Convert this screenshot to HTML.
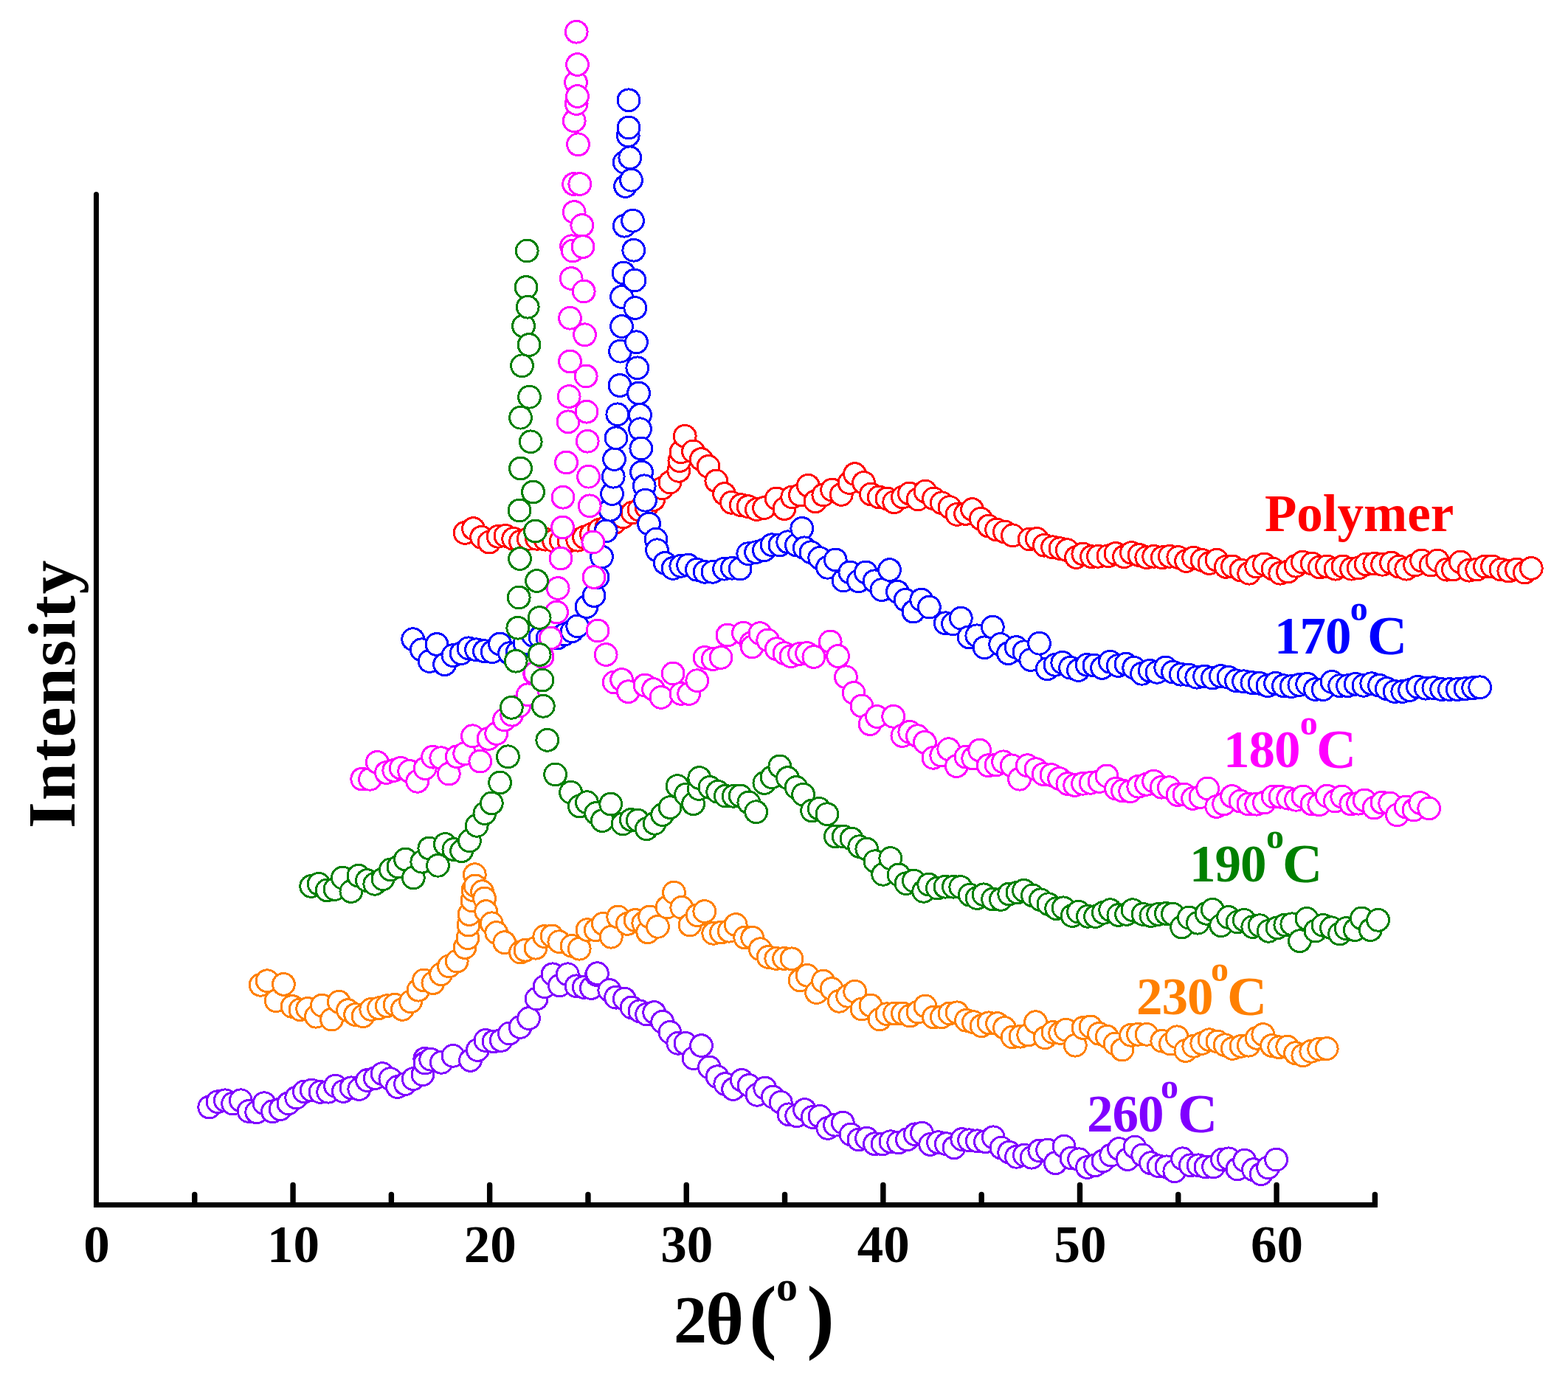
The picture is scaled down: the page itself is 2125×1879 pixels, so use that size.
<!DOCTYPE html><html><head><meta charset="utf-8"><title>XRD patterns</title><style>html,body{margin:0;padding:0;background:#fff;overflow:hidden}svg{display:block}</style></head><body><svg width="2125" height="1879" viewBox="0 0 2125 1879"><rect width="100%" height="100%" fill="#fff"/><g stroke="#ff0000" fill="#fff" stroke-width="3" shape-rendering="crispEdges"><circle cx="630.1" cy="722.4" r="14.9"/><circle cx="641.5" cy="716.6" r="14.9"/><circle cx="652.6" cy="728.3" r="14.9"/><circle cx="663" cy="735.1" r="14.9"/><circle cx="675.1" cy="727.3" r="14.9"/><circle cx="684.9" cy="726.3" r="14.9"/><circle cx="695.7" cy="730.3" r="14.9"/><circle cx="705.5" cy="734.2" r="14.9"/><circle cx="716.2" cy="730.3" r="14.9"/><circle cx="727.6" cy="730.3" r="14.9"/><circle cx="738.9" cy="731.2" r="14.9"/><circle cx="750.5" cy="733.2" r="14.9"/><circle cx="760.3" cy="733.2" r="14.9"/><circle cx="771" cy="733.2" r="14.9"/><circle cx="782.8" cy="732.2" r="14.9"/><circle cx="791.6" cy="728.3" r="14.9"/><circle cx="801.4" cy="724.4" r="14.9"/><circle cx="812.1" cy="718.5" r="14.9"/><circle cx="821.9" cy="714.6" r="14.9"/><circle cx="832.9" cy="708.7" r="14.9"/><circle cx="844.6" cy="700.9" r="14.9"/><circle cx="857.1" cy="695" r="14.9"/><circle cx="866.1" cy="691.1" r="14.9"/><circle cx="875.9" cy="687.2" r="14.9"/><circle cx="885.7" cy="677.4" r="14.9"/><circle cx="897.5" cy="661.8" r="14.9"/><circle cx="908" cy="653.9" r="14.9"/><circle cx="919.8" cy="638.3" r="14.9"/><circle cx="920.9" cy="624.6" r="14.9"/><circle cx="922.9" cy="612.8" r="14.9"/><circle cx="928.2" cy="591.3" r="14.9"/><circle cx="939.5" cy="611.9" r="14.9"/><circle cx="950.3" cy="622.6" r="14.9"/><circle cx="960.1" cy="632.4" r="14.9"/><circle cx="970.8" cy="652" r="14.9"/><circle cx="981.6" cy="669.6" r="14.9"/><circle cx="991.4" cy="681.3" r="14.9"/><circle cx="1004.3" cy="684.7" r="14.9"/><circle cx="1014.1" cy="686.7" r="14.9"/><circle cx="1025.4" cy="690.6" r="14.9"/><circle cx="1035.6" cy="688.6" r="14.9"/><circle cx="1052.2" cy="675.9" r="14.9"/><circle cx="1063" cy="689.6" r="14.9"/><circle cx="1073.7" cy="673.9" r="14.9"/><circle cx="1084.5" cy="671" r="14.9"/><circle cx="1095.3" cy="658.3" r="14.9"/><circle cx="1105" cy="679.8" r="14.9"/><circle cx="1115.8" cy="671" r="14.9"/><circle cx="1127.6" cy="664.1" r="14.9"/><circle cx="1140.3" cy="670.4" r="14.9"/><circle cx="1151" cy="654.4" r="14.9"/><circle cx="1158.5" cy="642.6" r="14.9"/><circle cx="1170.6" cy="654.4" r="14.9"/><circle cx="1180.4" cy="670" r="14.9"/><circle cx="1191.2" cy="673.9" r="14.9"/><circle cx="1201.9" cy="675.9" r="14.9"/><circle cx="1211.7" cy="680.8" r="14.9"/><circle cx="1223.4" cy="673.9" r="14.9"/><circle cx="1232.4" cy="669" r="14.9"/><circle cx="1244" cy="676.9" r="14.9"/><circle cx="1254" cy="666.1" r="14.9"/><circle cx="1265.5" cy="675.9" r="14.9"/><circle cx="1276.3" cy="681.8" r="14.9"/><circle cx="1287" cy="687.6" r="14.9"/><circle cx="1297" cy="697.4" r="14.9"/><circle cx="1308.6" cy="696.4" r="14.9"/><circle cx="1317.6" cy="690.6" r="14.9"/><circle cx="1329.3" cy="703.3" r="14.9"/><circle cx="1339.9" cy="713.1" r="14.9"/><circle cx="1350.6" cy="718" r="14.9"/><circle cx="1361.4" cy="720.9" r="14.9"/><circle cx="1372.4" cy="725.8" r="14.9"/><circle cx="1395.2" cy="731" r="14.9"/><circle cx="1405.2" cy="730.4" r="14.9"/><circle cx="1415.4" cy="739.2" r="14.9"/><circle cx="1426.6" cy="741.8" r="14.9"/><circle cx="1436.9" cy="743.7" r="14.9"/><circle cx="1446.3" cy="745.7" r="14.9"/><circle cx="1458.5" cy="755.5" r="14.9"/><circle cx="1467.8" cy="751" r="14.9"/><circle cx="1479.4" cy="754.7" r="14.9"/><circle cx="1488.4" cy="754.3" r="14.9"/><circle cx="1501.9" cy="753.7" r="14.9"/><circle cx="1511.9" cy="750.4" r="14.9"/><circle cx="1523.4" cy="754.7" r="14.9"/><circle cx="1533.4" cy="749.4" r="14.9"/><circle cx="1544" cy="752.5" r="14.9"/><circle cx="1553.8" cy="755.7" r="14.9"/><circle cx="1563.7" cy="754.3" r="14.9"/><circle cx="1575.3" cy="755.7" r="14.9"/><circle cx="1585.3" cy="754.3" r="14.9"/><circle cx="1596.8" cy="755.5" r="14.9"/><circle cx="1607.6" cy="760.5" r="14.9"/><circle cx="1617.6" cy="756.2" r="14.9"/><circle cx="1629.1" cy="759.4" r="14.9"/><circle cx="1638.9" cy="763.5" r="14.9"/><circle cx="1648.9" cy="759.2" r="14.9"/><circle cx="1661.4" cy="768.4" r="14.9"/><circle cx="1670.4" cy="768" r="14.9"/><circle cx="1681.9" cy="773.1" r="14.9"/><circle cx="1692.7" cy="777.2" r="14.9"/><circle cx="1702.7" cy="768" r="14.9"/><circle cx="1713.4" cy="765" r="14.9"/><circle cx="1725" cy="771.1" r="14.9"/><circle cx="1734.8" cy="777.2" r="14.9"/><circle cx="1745.5" cy="775" r="14.9"/><circle cx="1756.3" cy="767.2" r="14.9"/><circle cx="1765.3" cy="762.1" r="14.9"/><circle cx="1778.2" cy="764.1" r="14.9"/><circle cx="1788.4" cy="769" r="14.9"/><circle cx="1798.4" cy="767.9" r="14.9"/><circle cx="1809.9" cy="771.2" r="14.9"/><circle cx="1819.9" cy="767.9" r="14.9"/><circle cx="1831.5" cy="771.2" r="14.9"/><circle cx="1841.2" cy="770" r="14.9"/><circle cx="1851.2" cy="764.9" r="14.9"/><circle cx="1862.8" cy="764.1" r="14.9"/><circle cx="1873.5" cy="765.3" r="14.9"/><circle cx="1885.5" cy="763" r="14.9"/><circle cx="1896" cy="768.1" r="14.9"/><circle cx="1905.8" cy="771.2" r="14.9"/><circle cx="1917.6" cy="766.1" r="14.9"/><circle cx="1926.6" cy="760" r="14.9"/><circle cx="1939.1" cy="766.1" r="14.9"/><circle cx="1948.1" cy="760" r="14.9"/><circle cx="1960.6" cy="772.2" r="14.9"/><circle cx="1969.4" cy="772" r="14.9"/><circle cx="1979.4" cy="762" r="14.9"/><circle cx="1990.9" cy="773.2" r="14.9"/><circle cx="2001.7" cy="772" r="14.9"/><circle cx="2012.5" cy="768.1" r="14.9"/><circle cx="2022.5" cy="767.9" r="14.9"/><circle cx="2034" cy="772" r="14.9"/><circle cx="2044.8" cy="774.1" r="14.9"/><circle cx="2055.5" cy="772" r="14.9"/><circle cx="2066.3" cy="776.1" r="14.9"/><circle cx="2075.3" cy="770.4" r="14.9"/></g><g stroke="#0000ff" fill="#fff" stroke-width="3" shape-rendering="crispEdges"><circle cx="559.7" cy="866.7" r="14.9"/><circle cx="571.3" cy="880.8" r="14.9"/><circle cx="582.2" cy="896.4" r="14.9"/><circle cx="592" cy="873.5" r="14.9"/><circle cx="602.6" cy="900.7" r="14.9"/><circle cx="613.9" cy="888.6" r="14.9"/><circle cx="625.1" cy="885.7" r="14.9"/><circle cx="634.9" cy="878.8" r="14.9"/><circle cx="645.6" cy="880.8" r="14.9"/><circle cx="656.4" cy="882.7" r="14.9"/><circle cx="667.2" cy="883.7" r="14.9"/><circle cx="677.5" cy="873" r="14.9"/><circle cx="690.6" cy="885.7" r="14.9"/><circle cx="701" cy="884.7" r="14.9"/><circle cx="711" cy="872" r="14.9"/><circle cx="722.6" cy="861.4" r="14.9"/><circle cx="732.1" cy="863.9" r="14.9"/><circle cx="742.1" cy="865.1" r="14.9"/><circle cx="755.2" cy="865.1" r="14.9"/><circle cx="765" cy="860" r="14.9"/><circle cx="775.2" cy="855.8" r="14.9"/><circle cx="782.7" cy="848.9" r="14.9"/><circle cx="795" cy="822.5" r="14.9"/><circle cx="805" cy="807.5" r="14.9"/><circle cx="810" cy="782.5" r="14.9"/><circle cx="815.5" cy="755" r="14.9"/><circle cx="821.2" cy="720" r="14.9"/><circle cx="827" cy="691.2" r="14.9"/><circle cx="829.5" cy="669.5" r="14.9"/><circle cx="831.2" cy="646.2" r="14.9"/><circle cx="832.5" cy="622.5" r="14.9"/><circle cx="835" cy="593.8" r="14.9"/><circle cx="836.8" cy="561.8" r="14.9"/><circle cx="840" cy="522.5" r="14.9"/><circle cx="840.5" cy="476.2" r="14.9"/><circle cx="842.5" cy="402.5" r="14.9"/><circle cx="842.5" cy="442.5" r="14.9"/><circle cx="845" cy="370" r="14.9"/><circle cx="846.2" cy="220" r="14.9"/><circle cx="846.2" cy="306.2" r="14.9"/><circle cx="847.5" cy="252.5" r="14.9"/><circle cx="851.2" cy="183.8" r="14.9"/><circle cx="852" cy="135.8" r="14.9"/><circle cx="852" cy="173" r="14.9"/><circle cx="853.8" cy="213.8" r="14.9"/><circle cx="855.5" cy="244.2" r="14.9"/><circle cx="857.5" cy="299.2" r="14.9"/><circle cx="858.8" cy="339.2" r="14.9"/><circle cx="860" cy="380" r="14.9"/><circle cx="860.8" cy="417.5" r="14.9"/><circle cx="862.5" cy="463.8" r="14.9"/><circle cx="863.8" cy="498.8" r="14.9"/><circle cx="865.5" cy="533" r="14.9"/><circle cx="867.5" cy="562.5" r="14.9"/><circle cx="867.5" cy="581.8" r="14.9"/><circle cx="868.8" cy="608" r="14.9"/><circle cx="869.5" cy="640" r="14.9"/><circle cx="873.2" cy="658.8" r="14.9"/><circle cx="874.5" cy="678.2" r="14.9"/><circle cx="879.5" cy="710" r="14.9"/><circle cx="889" cy="731.1" r="14.9"/><circle cx="890.5" cy="745.8" r="14.9"/><circle cx="901.3" cy="763.4" r="14.9"/><circle cx="912.1" cy="770.4" r="14.9"/><circle cx="922.8" cy="767.3" r="14.9"/><circle cx="932.6" cy="766.1" r="14.9"/><circle cx="944.4" cy="772.2" r="14.9"/><circle cx="955.1" cy="775.3" r="14.9"/><circle cx="965.9" cy="775.3" r="14.9"/><circle cx="981.5" cy="771.2" r="14.9"/><circle cx="992.3" cy="770.2" r="14.9"/><circle cx="1003.1" cy="771" r="14.9"/><circle cx="1013.8" cy="750.7" r="14.9"/><circle cx="1024.6" cy="748.7" r="14.9"/><circle cx="1035.4" cy="745.8" r="14.9"/><circle cx="1046.1" cy="738.7" r="14.9"/><circle cx="1056.9" cy="738.9" r="14.9"/><circle cx="1067.7" cy="734.8" r="14.9"/><circle cx="1079.4" cy="738.9" r="14.9"/><circle cx="1086.8" cy="716.4" r="14.9"/><circle cx="1090.2" cy="742.8" r="14.9"/><circle cx="1099" cy="748.7" r="14.9"/><circle cx="1110.7" cy="756.5" r="14.9"/><circle cx="1121.5" cy="769.3" r="14.9"/><circle cx="1132.2" cy="758.9" r="14.9"/><circle cx="1143" cy="786.9" r="14.9"/><circle cx="1151.8" cy="775.9" r="14.9"/><circle cx="1163.5" cy="787.8" r="14.9"/><circle cx="1173.3" cy="775.9" r="14.9"/><circle cx="1185.1" cy="787.8" r="14.9"/><circle cx="1194.9" cy="799.6" r="14.9"/><circle cx="1205.6" cy="772.6" r="14.9"/><circle cx="1216.4" cy="802.3" r="14.9"/><circle cx="1227.1" cy="813.3" r="14.9"/><circle cx="1237.9" cy="829.1" r="14.9"/><circle cx="1248.7" cy="813.1" r="14.9"/><circle cx="1259.4" cy="823.1" r="14.9"/><circle cx="1281.3" cy="844.8" r="14.9"/><circle cx="1291.5" cy="845.8" r="14.9"/><circle cx="1302.3" cy="838.1" r="14.9"/><circle cx="1313" cy="863.8" r="14.9"/><circle cx="1323.8" cy="861.8" r="14.9"/><circle cx="1334.1" cy="877.8" r="14.9"/><circle cx="1345.3" cy="850.1" r="14.9"/><circle cx="1355.7" cy="873.5" r="14.9"/><circle cx="1366.4" cy="885.7" r="14.9"/><circle cx="1377.2" cy="877.5" r="14.9"/><circle cx="1388" cy="883.7" r="14.9"/><circle cx="1396.8" cy="894.5" r="14.9"/><circle cx="1408.5" cy="872.2" r="14.9"/><circle cx="1419.3" cy="906.8" r="14.9"/><circle cx="1430" cy="901.3" r="14.9"/><circle cx="1439.8" cy="898.2" r="14.9"/><circle cx="1450.6" cy="905.2" r="14.9"/><circle cx="1461.4" cy="908.6" r="14.9"/><circle cx="1473.1" cy="901.3" r="14.9"/><circle cx="1482.9" cy="902.1" r="14.9"/><circle cx="1493.6" cy="905.4" r="14.9"/><circle cx="1504.4" cy="897.2" r="14.9"/><circle cx="1515.2" cy="902.5" r="14.9"/><circle cx="1525.9" cy="900.2" r="14.9"/><circle cx="1536.7" cy="905.2" r="14.9"/><circle cx="1547.5" cy="913.3" r="14.9"/><circle cx="1558.2" cy="909.2" r="14.9"/><circle cx="1568" cy="911.3" r="14.9"/><circle cx="1579.7" cy="905" r="14.9"/><circle cx="1589.5" cy="911.1" r="14.9"/><circle cx="1600.3" cy="914.2" r="14.9"/><circle cx="1611.1" cy="915" r="14.9"/><circle cx="1621.8" cy="918.2" r="14.9"/><circle cx="1632.6" cy="917" r="14.9"/><circle cx="1643.3" cy="919.1" r="14.9"/><circle cx="1654.3" cy="916.6" r="14.9"/><circle cx="1665" cy="918.3" r="14.9"/><circle cx="1675.4" cy="922.8" r="14.9"/><circle cx="1685.6" cy="923.8" r="14.9"/><circle cx="1696.9" cy="925.6" r="14.9"/><circle cx="1707.1" cy="926.3" r="14.9"/><circle cx="1717.9" cy="929.7" r="14.9"/><circle cx="1728.6" cy="926.3" r="14.9"/><circle cx="1739.4" cy="929.7" r="14.9"/><circle cx="1750.2" cy="930.6" r="14.9"/><circle cx="1760.9" cy="928.5" r="14.9"/><circle cx="1771.7" cy="927.3" r="14.9"/><circle cx="1782.4" cy="934.6" r="14.9"/><circle cx="1793.2" cy="934.6" r="14.9"/><circle cx="1805" cy="924.4" r="14.9"/><circle cx="1815.7" cy="929.7" r="14.9"/><circle cx="1826.5" cy="929.7" r="14.9"/><circle cx="1837.2" cy="927.3" r="14.9"/><circle cx="1848" cy="929.3" r="14.9"/><circle cx="1858.8" cy="926.7" r="14.9"/><circle cx="1869.5" cy="929.3" r="14.9"/><circle cx="1879.3" cy="933.6" r="14.9"/><circle cx="1890.1" cy="937.5" r="14.9"/><circle cx="1900.8" cy="937.5" r="14.9"/><circle cx="1910.6" cy="935.5" r="14.9"/><circle cx="1921.4" cy="931.2" r="14.9"/><circle cx="1932.2" cy="933.2" r="14.9"/><circle cx="1942.9" cy="932.6" r="14.9"/><circle cx="1953.7" cy="934.6" r="14.9"/><circle cx="1964.4" cy="934.6" r="14.9"/><circle cx="1975.2" cy="934.6" r="14.9"/><circle cx="1986" cy="933.6" r="14.9"/><circle cx="1996.7" cy="932.6" r="14.9"/><circle cx="2005.7" cy="931.8" r="14.9"/></g><g stroke="#ff00ff" fill="#fff" stroke-width="3" shape-rendering="crispEdges"><circle cx="490.7" cy="1056.1" r="14.9"/><circle cx="501.5" cy="1056.3" r="14.9"/><circle cx="511.3" cy="1033.4" r="14.9"/><circle cx="523.4" cy="1047.5" r="14.9"/><circle cx="533.8" cy="1044.4" r="14.9"/><circle cx="543.2" cy="1041.3" r="14.9"/><circle cx="554.7" cy="1045.4" r="14.9"/><circle cx="565.7" cy="1059.3" r="14.9"/><circle cx="576.2" cy="1041.6" r="14.9"/><circle cx="586.6" cy="1026.2" r="14.9"/><circle cx="597.8" cy="1027.7" r="14.9"/><circle cx="608.3" cy="1049.1" r="14.9"/><circle cx="619.3" cy="1025.8" r="14.9"/><circle cx="629.7" cy="1021.7" r="14.9"/><circle cx="640.4" cy="997.8" r="14.9"/><circle cx="650.8" cy="1032.1" r="14.9"/><circle cx="662" cy="1001.5" r="14.9"/><circle cx="672.7" cy="994.5" r="14.9"/><circle cx="683.5" cy="975.9" r="14.9"/><circle cx="693.7" cy="969.2" r="14.9"/><circle cx="703.6" cy="957.1" r="14.9"/><circle cx="715.2" cy="941.8" r="14.9"/><circle cx="724.7" cy="913.6" r="14.9"/><circle cx="725" cy="912.3" r="14.9"/><circle cx="735.1" cy="890.2" r="14.9"/><circle cx="746.25" cy="865" r="14.9"/><circle cx="754.5" cy="830" r="14.9"/><circle cx="756.2" cy="797.5" r="14.9"/><circle cx="760" cy="757" r="14.9"/><circle cx="762.5" cy="715" r="14.9"/><circle cx="763" cy="674.2" r="14.9"/><circle cx="767.5" cy="627" r="14.9"/><circle cx="770" cy="571.8" r="14.9"/><circle cx="771.2" cy="537.5" r="14.9"/><circle cx="772.5" cy="431.2" r="14.9"/><circle cx="772.5" cy="490" r="14.9"/><circle cx="774.2" cy="377.5" r="14.9"/><circle cx="774.5" cy="333.8" r="14.9"/><circle cx="776.2" cy="340" r="14.9"/><circle cx="777.5" cy="249.5" r="14.9"/><circle cx="778.2" cy="163.8" r="14.9"/><circle cx="778.2" cy="287.5" r="14.9"/><circle cx="780.5" cy="111.8" r="14.9"/><circle cx="781.2" cy="43.2" r="14.9"/><circle cx="781.2" cy="140.5" r="14.9"/><circle cx="782.5" cy="87.5" r="14.9"/><circle cx="782.5" cy="130.5" r="14.9"/><circle cx="783.5" cy="195.8" r="14.9"/><circle cx="785.8" cy="249.5" r="14.9"/><circle cx="788.8" cy="305.5" r="14.9"/><circle cx="790" cy="334.5" r="14.9"/><circle cx="791.2" cy="395" r="14.9"/><circle cx="792.5" cy="453.8" r="14.9"/><circle cx="794.2" cy="510" r="14.9"/><circle cx="795" cy="558.2" r="14.9"/><circle cx="796.2" cy="598.2" r="14.9"/><circle cx="797.5" cy="646.2" r="14.9"/><circle cx="799.2" cy="685.8" r="14.9"/><circle cx="803.8" cy="735" r="14.9"/><circle cx="805" cy="782.5" r="14.9"/><circle cx="810" cy="855" r="14.9"/><circle cx="821.2" cy="887.5" r="14.9"/><circle cx="832.2" cy="925" r="14.9"/><circle cx="842.6" cy="921.5" r="14.9"/><circle cx="851.4" cy="937.7" r="14.9"/><circle cx="874" cy="929" r="14.9"/><circle cx="885.5" cy="934.5" r="14.9"/><circle cx="895.9" cy="945.4" r="14.9"/><circle cx="912.1" cy="913" r="14.9"/><circle cx="922.9" cy="940.4" r="14.9"/><circle cx="933.7" cy="940.5" r="14.9"/><circle cx="944.8" cy="922.7" r="14.9"/><circle cx="955" cy="891.4" r="14.9"/><circle cx="966.1" cy="893.6" r="14.9"/><circle cx="977.1" cy="891.4" r="14.9"/><circle cx="985.9" cy="861.1" r="14.9"/><circle cx="1007.4" cy="858.2" r="14.9"/><circle cx="1018" cy="871.9" r="14.9"/><circle cx="1019.2" cy="876.9" r="14.9"/><circle cx="1029.9" cy="858.6" r="14.9"/><circle cx="1040.7" cy="867.9" r="14.9"/><circle cx="1052.3" cy="879.7" r="14.9"/><circle cx="1063" cy="885.6" r="14.9"/><circle cx="1072" cy="889.7" r="14.9"/><circle cx="1083.4" cy="886.5" r="14.9"/><circle cx="1093.5" cy="885.4" r="14.9"/><circle cx="1102.9" cy="890.5" r="14.9"/><circle cx="1125.2" cy="869.9" r="14.9"/><circle cx="1135.6" cy="889.5" r="14.9"/><circle cx="1146.4" cy="917.8" r="14.9"/><circle cx="1157.1" cy="939.4" r="14.9"/><circle cx="1167.9" cy="957" r="14.9"/><circle cx="1179.1" cy="981.6" r="14.9"/><circle cx="1188.5" cy="971.5" r="14.9"/><circle cx="1210.7" cy="971.3" r="14.9"/><circle cx="1222.9" cy="997.5" r="14.9"/><circle cx="1232.8" cy="992.3" r="14.9"/><circle cx="1243.4" cy="997.7" r="14.9"/><circle cx="1253.4" cy="1006.3" r="14.9"/><circle cx="1264.9" cy="1027.3" r="14.9"/><circle cx="1275.7" cy="1024.1" r="14.9"/><circle cx="1285.7" cy="1015.7" r="14.9"/><circle cx="1296.4" cy="1038.6" r="14.9"/><circle cx="1309" cy="1026.1" r="14.9"/><circle cx="1318.7" cy="1028.1" r="14.9"/><circle cx="1327.7" cy="1017.1" r="14.9"/><circle cx="1339.3" cy="1037.7" r="14.9"/><circle cx="1350.1" cy="1036.9" r="14.9"/><circle cx="1359.6" cy="1032.8" r="14.9"/><circle cx="1371.2" cy="1037.8" r="14.9"/><circle cx="1381.6" cy="1056.2" r="14.9"/><circle cx="1392.3" cy="1037.7" r="14.9"/><circle cx="1403.9" cy="1042.7" r="14.9"/><circle cx="1414.2" cy="1049.6" r="14.9"/><circle cx="1425" cy="1050.6" r="14.9"/><circle cx="1435.6" cy="1055.5" r="14.9"/><circle cx="1446.9" cy="1062.5" r="14.9"/><circle cx="1456.7" cy="1064.5" r="14.9"/><circle cx="1467.5" cy="1062.3" r="14.9"/><circle cx="1478.2" cy="1061.3" r="14.9"/><circle cx="1490" cy="1059.4" r="14.9"/><circle cx="1500" cy="1051.9" r="14.9"/><circle cx="1512.5" cy="1069.2" r="14.9"/><circle cx="1521.3" cy="1071.9" r="14.9"/><circle cx="1531.7" cy="1072.7" r="14.9"/><circle cx="1542.8" cy="1066.2" r="14.9"/><circle cx="1553.6" cy="1063.3" r="14.9"/><circle cx="1563.6" cy="1059.2" r="14.9"/><circle cx="1574.3" cy="1067.2" r="14.9"/><circle cx="1584.3" cy="1067.7" r="14.9"/><circle cx="1596" cy="1077.5" r="14.9"/><circle cx="1605" cy="1077.1" r="14.9"/><circle cx="1616.6" cy="1082.4" r="14.9"/><circle cx="1626.9" cy="1080.4" r="14.9"/><circle cx="1636.7" cy="1068.9" r="14.9"/><circle cx="1648.8" cy="1093.5" r="14.9"/><circle cx="1658.6" cy="1090" r="14.9"/><circle cx="1669.6" cy="1079.5" r="14.9"/><circle cx="1681.1" cy="1086.1" r="14.9"/><circle cx="1691.9" cy="1090" r="14.9"/><circle cx="1702.7" cy="1090.2" r="14.9"/><circle cx="1713.4" cy="1088.1" r="14.9"/><circle cx="1725.2" cy="1080" r="14.9"/><circle cx="1735" cy="1080.2" r="14.9"/><circle cx="1745.7" cy="1082.2" r="14.9"/><circle cx="1756.5" cy="1084.3" r="14.9"/><circle cx="1765.9" cy="1080" r="14.9"/><circle cx="1778" cy="1090" r="14.9"/><circle cx="1787.8" cy="1090.8" r="14.9"/><circle cx="1798.4" cy="1079.1" r="14.9"/><circle cx="1809.3" cy="1086.1" r="14.9"/><circle cx="1818.7" cy="1080" r="14.9"/><circle cx="1830.8" cy="1090" r="14.9"/><circle cx="1840.6" cy="1089.2" r="14.9"/><circle cx="1849.2" cy="1084.9" r="14.9"/><circle cx="1862.2" cy="1095.1" r="14.9"/><circle cx="1872.9" cy="1088.1" r="14.9"/><circle cx="1883.7" cy="1089" r="14.9"/><circle cx="1893.5" cy="1104.9" r="14.9"/><circle cx="1905.2" cy="1093.9" r="14.9"/><circle cx="1916" cy="1098" r="14.9"/><circle cx="1924.8" cy="1088.5" r="14.9"/><circle cx="1936.7" cy="1095.9" r="14.9"/></g><g stroke="#008000" fill="#fff" stroke-width="3" shape-rendering="crispEdges"><circle cx="421.7" cy="1201.4" r="14.9"/><circle cx="432.1" cy="1198.3" r="14.9"/><circle cx="443.2" cy="1206.9" r="14.9"/><circle cx="454" cy="1205.4" r="14.9"/><circle cx="464.4" cy="1190.1" r="14.9"/><circle cx="475.9" cy="1208.5" r="14.9"/><circle cx="485.9" cy="1187.2" r="14.9"/><circle cx="497.4" cy="1193.6" r="14.9"/><circle cx="507.8" cy="1198.3" r="14.9"/><circle cx="519" cy="1191.7" r="14.9"/><circle cx="529.3" cy="1178.9" r="14.9"/><circle cx="539.9" cy="1175" r="14.9"/><circle cx="549.5" cy="1165" r="14.9"/><circle cx="560.3" cy="1189.9" r="14.9"/><circle cx="571.8" cy="1168.2" r="14.9"/><circle cx="581.8" cy="1150" r="14.9"/><circle cx="593.5" cy="1173.3" r="14.9"/><circle cx="603.3" cy="1144.5" r="14.9"/><circle cx="614.9" cy="1151.5" r="14.9"/><circle cx="625.6" cy="1153.7" r="14.9"/><circle cx="636.4" cy="1139.8" r="14.9"/><circle cx="646.2" cy="1119.3" r="14.9"/><circle cx="656.9" cy="1102.6" r="14.9"/><circle cx="666.3" cy="1088.9" r="14.9"/><circle cx="677.6" cy="1061" r="14.9"/><circle cx="688.4" cy="1025.8" r="14.9"/><circle cx="693.3" cy="959.3" r="14.9"/><circle cx="699.2" cy="896.2" r="14.9"/><circle cx="701.8" cy="851.2" r="14.9"/><circle cx="703.2" cy="810" r="14.9"/><circle cx="704" cy="692" r="14.9"/><circle cx="704.5" cy="757.5" r="14.9"/><circle cx="705.5" cy="566.2" r="14.9"/><circle cx="705.5" cy="635" r="14.9"/><circle cx="707.5" cy="495.8" r="14.9"/><circle cx="709.5" cy="442" r="14.9"/><circle cx="713" cy="389.5" r="14.9"/><circle cx="714.2" cy="340" r="14.9"/><circle cx="715.2" cy="416.2" r="14.9"/><circle cx="717" cy="467.5" r="14.9"/><circle cx="717.5" cy="538.2" r="14.9"/><circle cx="719.2" cy="598.8" r="14.9"/><circle cx="722.5" cy="667" r="14.9"/><circle cx="725.5" cy="720" r="14.9"/><circle cx="727.5" cy="787.5" r="14.9"/><circle cx="731.2" cy="837.5" r="14.9"/><circle cx="731.2" cy="887.5" r="14.9"/><circle cx="735" cy="922.1" r="14.9"/><circle cx="736.3" cy="957.3" r="14.9"/><circle cx="741.8" cy="1003.3" r="14.9"/><circle cx="752.6" cy="1049.9" r="14.9"/><circle cx="773.6" cy="1074.2" r="14.9"/><circle cx="785.4" cy="1093" r="14.9"/><circle cx="795.4" cy="1087.7" r="14.9"/><circle cx="807.7" cy="1102.6" r="14.9"/><circle cx="816.3" cy="1112.6" r="14.9"/><circle cx="827.7" cy="1090.1" r="14.9"/><circle cx="844.1" cy="1116.9" r="14.9"/><circle cx="855.3" cy="1111.4" r="14.9"/><circle cx="864.3" cy="1112.2" r="14.9"/><circle cx="876.2" cy="1123.8" r="14.9"/><circle cx="887.2" cy="1116.3" r="14.9"/><circle cx="897.7" cy="1104.6" r="14.9"/><circle cx="908.1" cy="1094.6" r="14.9"/><circle cx="918.1" cy="1065.6" r="14.9"/><circle cx="929.6" cy="1077.2" r="14.9"/><circle cx="939.6" cy="1089.7" r="14.9"/><circle cx="947.2" cy="1069.4" r="14.9"/><circle cx="947.8" cy="1054.5" r="14.9"/><circle cx="961.9" cy="1067.4" r="14.9"/><circle cx="972.7" cy="1073.3" r="14.9"/><circle cx="983.4" cy="1079.1" r="14.9"/><circle cx="994.2" cy="1079.3" r="14.9"/><circle cx="1003.2" cy="1078.9" r="14.9"/><circle cx="1014.8" cy="1087.9" r="14.9"/><circle cx="1024.7" cy="1100.7" r="14.9"/><circle cx="1035.9" cy="1061.5" r="14.9"/><circle cx="1046.1" cy="1053.7" r="14.9"/><circle cx="1056.8" cy="1038.9" r="14.9"/><circle cx="1067.5" cy="1054.6" r="14.9"/><circle cx="1079.1" cy="1067.5" r="14.9"/><circle cx="1088.6" cy="1077.1" r="14.9"/><circle cx="1100.6" cy="1099" r="14.9"/><circle cx="1110.2" cy="1096.3" r="14.9"/><circle cx="1120.9" cy="1103.7" r="14.9"/><circle cx="1132.3" cy="1133.9" r="14.9"/><circle cx="1143.2" cy="1134.1" r="14.9"/><circle cx="1154" cy="1137" r="14.9"/><circle cx="1164.8" cy="1147.7" r="14.9"/><circle cx="1174.8" cy="1151.1" r="14.9"/><circle cx="1185.9" cy="1167.7" r="14.9"/><circle cx="1196.7" cy="1185.3" r="14.9"/><circle cx="1206.8" cy="1163.6" r="14.9"/><circle cx="1218" cy="1185.9" r="14.9"/><circle cx="1228" cy="1197.7" r="14.9"/><circle cx="1238.4" cy="1194.1" r="14.9"/><circle cx="1251.7" cy="1208.3" r="14.9"/><circle cx="1258.7" cy="1199.1" r="14.9"/><circle cx="1270.3" cy="1204.1" r="14.9"/><circle cx="1281" cy="1202.2" r="14.9"/><circle cx="1292.4" cy="1202.2" r="14.9"/><circle cx="1301.8" cy="1202.6" r="14.9"/><circle cx="1314.3" cy="1213.2" r="14.9"/><circle cx="1324.1" cy="1217.5" r="14.9"/><circle cx="1333.1" cy="1212.8" r="14.9"/><circle cx="1345.6" cy="1219" r="14.9"/><circle cx="1356.4" cy="1219.4" r="14.9"/><circle cx="1367.7" cy="1212" r="14.9"/><circle cx="1378.9" cy="1210" r="14.9"/><circle cx="1387.5" cy="1207.3" r="14.9"/><circle cx="1399.4" cy="1213.9" r="14.9"/><circle cx="1410.2" cy="1219.8" r="14.9"/><circle cx="1420.9" cy="1225.7" r="14.9"/><circle cx="1431.7" cy="1231.7" r="14.9"/><circle cx="1441.1" cy="1230.8" r="14.9"/><circle cx="1453.2" cy="1241.5" r="14.9"/><circle cx="1461.6" cy="1236.2" r="14.9"/><circle cx="1474.4" cy="1242.3" r="14.9"/><circle cx="1484.5" cy="1242.5" r="14.9"/><circle cx="1495.3" cy="1237.4" r="14.9"/><circle cx="1504.7" cy="1233.7" r="14.9"/><circle cx="1515.9" cy="1240.5" r="14.9"/><circle cx="1526.6" cy="1239.4" r="14.9"/><circle cx="1535" cy="1233.7" r="14.9"/><circle cx="1549.1" cy="1239.4" r="14.9"/><circle cx="1559.9" cy="1241.5" r="14.9"/><circle cx="1569.7" cy="1239.4" r="14.9"/><circle cx="1580.4" cy="1238.4" r="14.9"/><circle cx="1589.4" cy="1239.2" r="14.9"/><circle cx="1601.6" cy="1257" r="14.9"/><circle cx="1611.3" cy="1244" r="14.9"/><circle cx="1623.4" cy="1251.2" r="14.9"/><circle cx="1635.1" cy="1238.3" r="14.9"/><circle cx="1643.2" cy="1233.2" r="14.9"/><circle cx="1654.7" cy="1254.7" r="14.9"/><circle cx="1664.7" cy="1243.4" r="14.9"/><circle cx="1677.2" cy="1250" r="14.9"/><circle cx="1686.2" cy="1247.3" r="14.9"/><circle cx="1697.8" cy="1256.7" r="14.9"/><circle cx="1707.2" cy="1254.7" r="14.9"/><circle cx="1719.3" cy="1262.3" r="14.9"/><circle cx="1731" cy="1257.8" r="14.9"/><circle cx="1741.8" cy="1253.9" r="14.9"/><circle cx="1750.8" cy="1252.8" r="14.9"/><circle cx="1761.4" cy="1275.7" r="14.9"/><circle cx="1771" cy="1245.3" r="14.9"/><circle cx="1782.9" cy="1262" r="14.9"/><circle cx="1792.9" cy="1254.3" r="14.9"/><circle cx="1804.4" cy="1257.8" r="14.9"/><circle cx="1815.6" cy="1265.9" r="14.9"/><circle cx="1824.2" cy="1258.6" r="14.9"/><circle cx="1836.3" cy="1260.6" r="14.9"/><circle cx="1845.3" cy="1244.9" r="14.9"/><circle cx="1857.3" cy="1260.6" r="14.9"/><circle cx="1867.6" cy="1247.3" r="14.9"/></g><g stroke="#ff8000" fill="#fff" stroke-width="3" shape-rendering="crispEdges"><circle cx="353.1" cy="1335.3" r="14.9"/><circle cx="362.1" cy="1329.7" r="14.9"/><circle cx="374.2" cy="1356.7" r="14.9"/><circle cx="384.4" cy="1334.4" r="14.9"/><circle cx="396.1" cy="1364.5" r="14.9"/><circle cx="406.9" cy="1368.8" r="14.9"/><circle cx="416.7" cy="1367.4" r="14.9"/><circle cx="428.4" cy="1378.2" r="14.9"/><circle cx="436.4" cy="1363.1" r="14.9"/><circle cx="449.5" cy="1382.1" r="14.9"/><circle cx="459.3" cy="1358.2" r="14.9"/><circle cx="471.5" cy="1369.6" r="14.9"/><circle cx="481.6" cy="1375.5" r="14.9"/><circle cx="492" cy="1377.6" r="14.9"/><circle cx="502.8" cy="1368.4" r="14.9"/><circle cx="513.5" cy="1366.7" r="14.9"/><circle cx="524.3" cy="1363.7" r="14.9"/><circle cx="535.1" cy="1362.2" r="14.9"/><circle cx="545.4" cy="1368.4" r="14.9"/><circle cx="556.6" cy="1357.8" r="14.9"/><circle cx="567" cy="1342.2" r="14.9"/><circle cx="574.4" cy="1328.9" r="14.9"/><circle cx="586.9" cy="1332.6" r="14.9"/><circle cx="597.7" cy="1320.7" r="14.9"/><circle cx="608.5" cy="1309.9" r="14.9"/><circle cx="619.2" cy="1303.1" r="14.9"/><circle cx="630" cy="1284.5" r="14.9"/><circle cx="633.9" cy="1271.7" r="14.9"/><circle cx="635" cy="1254.1" r="14.9"/><circle cx="636" cy="1239.5" r="14.9"/><circle cx="639.9" cy="1220.9" r="14.9"/><circle cx="640.9" cy="1206.7" r="14.9"/><circle cx="643.3" cy="1185.7" r="14.9"/><circle cx="644" cy="1200.9" r="14.9"/><circle cx="653.6" cy="1208.7" r="14.9"/><circle cx="656.6" cy="1218" r="14.9"/><circle cx="658.7" cy="1235.6" r="14.9"/><circle cx="666.3" cy="1251.8" r="14.9"/><circle cx="672.7" cy="1264.5" r="14.9"/><circle cx="683.7" cy="1277.7" r="14.9"/><circle cx="705.5" cy="1291.1" r="14.9"/><circle cx="711.9" cy="1288.2" r="14.9"/><circle cx="726" cy="1285.2" r="14.9"/><circle cx="737.8" cy="1269.6" r="14.9"/><circle cx="748" cy="1268.9" r="14.9"/><circle cx="757.8" cy="1276.7" r="14.9"/><circle cx="775" cy="1282.3" r="14.9"/><circle cx="785.2" cy="1286.2" r="14.9"/><circle cx="796" cy="1260.6" r="14.9"/><circle cx="807.2" cy="1260.8" r="14.9"/><circle cx="817.2" cy="1252.2" r="14.9"/><circle cx="828.3" cy="1270.2" r="14.9"/><circle cx="837.7" cy="1243" r="14.9"/><circle cx="850.3" cy="1252.4" r="14.9"/><circle cx="861" cy="1247.5" r="14.9"/><circle cx="871.8" cy="1251.4" r="14.9"/><circle cx="877.7" cy="1263.8" r="14.9"/><circle cx="880.6" cy="1243" r="14.9"/><circle cx="891.5" cy="1256.3" r="14.9"/><circle cx="904.1" cy="1229.9" r="14.9"/><circle cx="913.5" cy="1210.1" r="14.9"/><circle cx="923.8" cy="1230.3" r="14.9"/><circle cx="935" cy="1254" r="14.9"/><circle cx="945.2" cy="1240.7" r="14.9"/><circle cx="954.8" cy="1235.6" r="14.9"/><circle cx="966.7" cy="1265.3" r="14.9"/><circle cx="977.5" cy="1264.1" r="14.9"/><circle cx="988.2" cy="1262.2" r="14.9"/><circle cx="997.2" cy="1253.6" r="14.9"/><circle cx="1009.7" cy="1271" r="14.9"/><circle cx="1019.7" cy="1271.2" r="14.9"/><circle cx="1030.3" cy="1286.7" r="14.9"/><circle cx="1041.1" cy="1297.4" r="14.9"/><circle cx="1051.8" cy="1299.4" r="14.9"/><circle cx="1062.6" cy="1299.4" r="14.9"/><circle cx="1073" cy="1299.8" r="14.9"/><circle cx="1084.1" cy="1328.9" r="14.9"/><circle cx="1094.1" cy="1322.3" r="14.9"/><circle cx="1106.6" cy="1345.6" r="14.9"/><circle cx="1115.6" cy="1330.1" r="14.9"/><circle cx="1127.2" cy="1340.5" r="14.9"/><circle cx="1137.3" cy="1357.3" r="14.9"/><circle cx="1148.7" cy="1350.3" r="14.9"/><circle cx="1158.7" cy="1344.2" r="14.9"/><circle cx="1168" cy="1368" r="14.9"/><circle cx="1180" cy="1363" r="14.9"/><circle cx="1192.1" cy="1382" r="14.9"/><circle cx="1201.9" cy="1374.7" r="14.9"/><circle cx="1212.6" cy="1373.9" r="14.9"/><circle cx="1223.4" cy="1373.9" r="14.9"/><circle cx="1233.2" cy="1377.1" r="14.9"/><circle cx="1244" cy="1372" r="14.9"/><circle cx="1253.9" cy="1364" r="14.9"/><circle cx="1265.5" cy="1379" r="14.9"/><circle cx="1276.2" cy="1378.8" r="14.9"/><circle cx="1287" cy="1373.9" r="14.9"/><circle cx="1297" cy="1372.8" r="14.9"/><circle cx="1309.5" cy="1383.3" r="14.9"/><circle cx="1319.3" cy="1385.7" r="14.9"/><circle cx="1330.1" cy="1390.8" r="14.9"/><circle cx="1340" cy="1386.8" r="14.9"/><circle cx="1351.6" cy="1387.6" r="14.9"/><circle cx="1361.4" cy="1393.5" r="14.9"/><circle cx="1372.1" cy="1406" r="14.9"/><circle cx="1382.9" cy="1405.2" r="14.9"/><circle cx="1393.7" cy="1402.9" r="14.9"/><circle cx="1403.6" cy="1385.7" r="14.9"/><circle cx="1416.2" cy="1406.8" r="14.9"/><circle cx="1426.9" cy="1399.4" r="14.9"/><circle cx="1436.7" cy="1400.4" r="14.9"/><circle cx="1444.7" cy="1396.2" r="14.9"/><circle cx="1457.3" cy="1417.2" r="14.9"/><circle cx="1468" cy="1393.5" r="14.9"/><circle cx="1478" cy="1391.9" r="14.9"/><circle cx="1489.5" cy="1401.3" r="14.9"/><circle cx="1500.3" cy="1405.2" r="14.9"/><circle cx="1511.1" cy="1415" r="14.9"/><circle cx="1520.9" cy="1423.1" r="14.9"/><circle cx="1532.6" cy="1403.3" r="14.9"/><circle cx="1542.4" cy="1402.3" r="14.9"/><circle cx="1554.1" cy="1402.3" r="14.9"/><circle cx="1574.8" cy="1411.2" r="14.9"/><circle cx="1586.5" cy="1415.1" r="14.9"/><circle cx="1595.1" cy="1405.8" r="14.9"/><circle cx="1606.9" cy="1424.5" r="14.9"/><circle cx="1617.8" cy="1418.3" r="14.9"/><circle cx="1628.8" cy="1414.4" r="14.9"/><circle cx="1639" cy="1409.7" r="14.9"/><circle cx="1649.9" cy="1412" r="14.9"/><circle cx="1660.1" cy="1416.7" r="14.9"/><circle cx="1670.3" cy="1421.4" r="14.9"/><circle cx="1682" cy="1418.3" r="14.9"/><circle cx="1692.2" cy="1417.2" r="14.9"/><circle cx="1703.2" cy="1407.3" r="14.9"/><circle cx="1711.8" cy="1402.6" r="14.9"/><circle cx="1723.5" cy="1417.5" r="14.9"/><circle cx="1733.7" cy="1419.8" r="14.9"/><circle cx="1744.7" cy="1419.1" r="14.9"/><circle cx="1755.6" cy="1427.7" r="14.9"/><circle cx="1765.8" cy="1430.8" r="14.9"/><circle cx="1776.8" cy="1425.3" r="14.9"/><circle cx="1787.7" cy="1422.2" r="14.9"/><circle cx="1798.2" cy="1421.6" r="14.9"/></g><g stroke="#8000ff" fill="#fff" stroke-width="3" shape-rendering="crispEdges"><circle cx="283.7" cy="1501" r="14.9"/><circle cx="295" cy="1493.7" r="14.9"/><circle cx="305.2" cy="1491.8" r="14.9"/><circle cx="315.6" cy="1496.1" r="14.9"/><circle cx="326.3" cy="1491.8" r="14.9"/><circle cx="337.1" cy="1506.5" r="14.9"/><circle cx="347.7" cy="1507.8" r="14.9"/><circle cx="358" cy="1495.7" r="14.9"/><circle cx="369.4" cy="1506.8" r="14.9"/><circle cx="380.1" cy="1503.7" r="14.9"/><circle cx="390.9" cy="1495.9" r="14.9"/><circle cx="401.7" cy="1488.1" r="14.9"/><circle cx="412.4" cy="1480" r="14.9"/><circle cx="422.2" cy="1478.1" r="14.9"/><circle cx="434" cy="1480.4" r="14.9"/><circle cx="444.7" cy="1480.2" r="14.9"/><circle cx="454.5" cy="1472.2" r="14.9"/><circle cx="465.3" cy="1479.5" r="14.9"/><circle cx="476" cy="1474.8" r="14.9"/><circle cx="486.8" cy="1476.5" r="14.9"/><circle cx="497.6" cy="1464.6" r="14.9"/><circle cx="508.3" cy="1461.6" r="14.9"/><circle cx="518.1" cy="1455.6" r="14.9"/><circle cx="528.9" cy="1462.6" r="14.9"/><circle cx="538.6" cy="1473.6" r="14.9"/><circle cx="549.4" cy="1469.5" r="14.9"/><circle cx="560.2" cy="1462.6" r="14.9"/><circle cx="572.9" cy="1456.8" r="14.9"/><circle cx="575.8" cy="1435.2" r="14.9"/><circle cx="576" cy="1441" r="14.9"/><circle cx="583.7" cy="1436.2" r="14.9"/><circle cx="598.3" cy="1440.3" r="14.9"/><circle cx="614" cy="1431.3" r="14.9"/><circle cx="637.5" cy="1437.4" r="14.9"/><circle cx="647.3" cy="1423.5" r="14.9"/><circle cx="657.9" cy="1410.4" r="14.9"/><circle cx="669.1" cy="1411.9" r="14.9"/><circle cx="679.3" cy="1410.4" r="14.9"/><circle cx="690.3" cy="1401" r="14.9"/><circle cx="705.1" cy="1392.4" r="14.9"/><circle cx="716.6" cy="1380.6" r="14.9"/><circle cx="727.1" cy="1354" r="14.9"/><circle cx="738" cy="1337.6" r="14.9"/><circle cx="749" cy="1320.8" r="14.9"/><circle cx="758.4" cy="1336" r="14.9"/><circle cx="769.3" cy="1320.8" r="14.9"/><circle cx="781.1" cy="1336.8" r="14.9"/><circle cx="791.3" cy="1338.4" r="14.9"/><circle cx="801.3" cy="1339.5" r="14.9"/><circle cx="808.5" cy="1321.5" r="14.9"/><circle cx="809.4" cy="1319.7" r="14.9"/><circle cx="825.8" cy="1342.4" r="14.9"/><circle cx="834.6" cy="1352.2" r="14.9"/><circle cx="846.3" cy="1354.2" r="14.9"/><circle cx="856.1" cy="1365.9" r="14.9"/><circle cx="866.9" cy="1370.8" r="14.9"/><circle cx="876.6" cy="1375.1" r="14.9"/><circle cx="886.7" cy="1372.6" r="14.9"/><circle cx="897.7" cy="1385.3" r="14.9"/><circle cx="907.9" cy="1399.4" r="14.9"/><circle cx="918.8" cy="1414.3" r="14.9"/><circle cx="929" cy="1414.3" r="14.9"/><circle cx="940" cy="1434.6" r="14.9"/><circle cx="950.5" cy="1417.6" r="14.9"/><circle cx="961.3" cy="1447" r="14.9"/><circle cx="972.1" cy="1459.7" r="14.9"/><circle cx="982.8" cy="1469.5" r="14.9"/><circle cx="993.6" cy="1476.5" r="14.9"/><circle cx="1005.3" cy="1464.4" r="14.9"/><circle cx="1015.1" cy="1471.4" r="14.9"/><circle cx="1025.9" cy="1484.3" r="14.9"/><circle cx="1036.7" cy="1475.1" r="14.9"/><circle cx="1047.4" cy="1487.1" r="14.9"/><circle cx="1058.2" cy="1494.3" r="14.9"/><circle cx="1068.9" cy="1510.8" r="14.9"/><circle cx="1079.7" cy="1512.7" r="14.9"/><circle cx="1090.5" cy="1504.5" r="14.9"/><circle cx="1101.2" cy="1514.5" r="14.9"/><circle cx="1111" cy="1513.3" r="14.9"/><circle cx="1121.8" cy="1529.4" r="14.9"/><circle cx="1131.6" cy="1525.2" r="14.9"/><circle cx="1142.3" cy="1522.1" r="14.9"/><circle cx="1153.1" cy="1538" r="14.9"/><circle cx="1163.9" cy="1545" r="14.9"/><circle cx="1174.6" cy="1543.2" r="14.9"/><circle cx="1185.4" cy="1550.7" r="14.9"/><circle cx="1196.1" cy="1550.9" r="14.9"/><circle cx="1206.9" cy="1547.7" r="14.9"/><circle cx="1217.7" cy="1548.9" r="14.9"/><circle cx="1229.4" cy="1544.8" r="14.9"/><circle cx="1240.2" cy="1537.8" r="14.9"/><circle cx="1249.4" cy="1536.2" r="14.9"/><circle cx="1260.7" cy="1551.5" r="14.9"/><circle cx="1271.5" cy="1548.7" r="14.9"/><circle cx="1282.3" cy="1550.7" r="14.9"/><circle cx="1293" cy="1555.8" r="14.9"/><circle cx="1303.8" cy="1544.6" r="14.9"/><circle cx="1313.6" cy="1545.8" r="14.9"/><circle cx="1324.3" cy="1546.8" r="14.9"/><circle cx="1335.4" cy="1547.7" r="14.9"/><circle cx="1346.2" cy="1541.8" r="14.9"/><circle cx="1357" cy="1556.1" r="14.9"/><circle cx="1367.7" cy="1562.2" r="14.9"/><circle cx="1377.5" cy="1568.3" r="14.9"/><circle cx="1388.3" cy="1566.1" r="14.9"/><circle cx="1398.1" cy="1569.2" r="14.9"/><circle cx="1408.8" cy="1560" r="14.9"/><circle cx="1419.6" cy="1559.1" r="14.9"/><circle cx="1430.4" cy="1576.7" r="14.9"/><circle cx="1442.1" cy="1554.2" r="14.9"/><circle cx="1451.9" cy="1570" r="14.9"/><circle cx="1462.6" cy="1571.8" r="14.9"/><circle cx="1473.4" cy="1582.5" r="14.9"/><circle cx="1484.2" cy="1579.8" r="14.9"/><circle cx="1494.9" cy="1573.9" r="14.9"/><circle cx="1505.7" cy="1566.1" r="14.9"/><circle cx="1516.5" cy="1557.5" r="14.9"/><circle cx="1528.2" cy="1571.6" r="14.9"/><circle cx="1538" cy="1555.1" r="14.9"/><circle cx="1548.7" cy="1565.9" r="14.9"/><circle cx="1559.5" cy="1576.7" r="14.9"/><circle cx="1570.3" cy="1580.8" r="14.9"/><circle cx="1581" cy="1581.8" r="14.9"/><circle cx="1591.8" cy="1587.8" r="14.9"/><circle cx="1602.6" cy="1570.8" r="14.9"/><circle cx="1613.3" cy="1579.8" r="14.9"/><circle cx="1624.1" cy="1579.8" r="14.9"/><circle cx="1633.9" cy="1582" r="14.9"/><circle cx="1644.6" cy="1581.8" r="14.9"/><circle cx="1656.4" cy="1572" r="14.9"/><circle cx="1665.2" cy="1570.8" r="14.9"/><circle cx="1676.9" cy="1584.9" r="14.9"/><circle cx="1686.7" cy="1573.2" r="14.9"/><circle cx="1698.5" cy="1585.7" r="14.9"/><circle cx="1709.2" cy="1591.7" r="14.9"/><circle cx="1718.6" cy="1582.8" r="14.9"/><circle cx="1729.6" cy="1572.1" r="14.9"/></g><g stroke="#000" stroke-width="7.4" stroke-linecap="round"><line x1="263.75" y1="1619.5" x2="263.75" y2="1633"/><line x1="397.05" y1="1606.5" x2="397.05" y2="1633"/><line x1="530.35" y1="1619.5" x2="530.35" y2="1633"/><line x1="663.65" y1="1606.5" x2="663.65" y2="1633"/><line x1="796.95" y1="1619.5" x2="796.95" y2="1633"/><line x1="930.25" y1="1606.5" x2="930.25" y2="1633"/><line x1="1063.55" y1="1619.5" x2="1063.55" y2="1633"/><line x1="1196.85" y1="1606.5" x2="1196.85" y2="1633"/><line x1="1330.15" y1="1619.5" x2="1330.15" y2="1633"/><line x1="1463.45" y1="1606.5" x2="1463.45" y2="1633"/><line x1="1596.75" y1="1619.5" x2="1596.75" y2="1633"/><line x1="1730.05" y1="1606.5" x2="1730.05" y2="1633"/><line x1="1863.35" y1="1619.5" x2="1863.35" y2="1633"/></g><path d="M130.45 263.5 V1633.5 H1866.9" fill="none" stroke="#000" stroke-width="7" stroke-linejoin="miter"/><circle cx="130.45" cy="263.5" r="3.5" fill="#000"/><g font-family="Liberation Serif, Times New Roman, serif" font-weight="bold"><text x="130.95" y="1710.5" font-size="71" fill="#000" text-anchor="middle">0</text><text x="397.55" y="1710.5" font-size="71" fill="#000" text-anchor="middle">10</text><text x="664.15" y="1710.5" font-size="71" fill="#000" text-anchor="middle">20</text><text x="930.75" y="1710.5" font-size="71" fill="#000" text-anchor="middle">30</text><text x="1197.35" y="1710.5" font-size="71" fill="#000" text-anchor="middle">40</text><text x="1463.95" y="1710.5" font-size="71" fill="#000" text-anchor="middle">50</text><text x="1730.55" y="1710.5" font-size="71" fill="#000" text-anchor="middle">60</text><text x="913" y="1820" font-size="90" fill="#000" >2</text><text x="956" y="1822" font-size="100" fill="#000" >θ</text><text x="1015" y="1821" font-size="113" fill="#000" >(</text><text x="1052" y="1763" font-size="58" fill="#000" >o</text><text x="1093.3" y="1821" font-size="113" fill="#000" >)</text><text transform="translate(101,1123) rotate(-90)" font-size="92" letter-spacing="2" fill="#000">Intensity</text><text x="1714" y="719.5" font-size="71" fill="#ff0000" >Polymer</text><text x="1727" y="886" font-size="71" fill="#0000ff" letter-spacing="-1">170</text><text x="1829.8" y="841" font-size="48" fill="#0000ff" >o</text><text x="1853" y="887" font-size="75" fill="#0000ff" >C</text><text x="1658" y="1040" font-size="71" fill="#ff00ff" letter-spacing="-1">180</text><text x="1761.8" y="996" font-size="48" fill="#ff00ff" >o</text><text x="1784" y="1041" font-size="75" fill="#ff00ff" >C</text><text x="1612" y="1195" font-size="71" fill="#008000" letter-spacing="-1">190</text><text x="1715.9" y="1150" font-size="48" fill="#008000" >o</text><text x="1738" y="1196" font-size="75" fill="#008000" >C</text><text x="1540" y="1375" font-size="71" fill="#ff8000" letter-spacing="-1">230</text><text x="1641" y="1330" font-size="48" fill="#ff8000" >o</text><text x="1663" y="1376" font-size="75" fill="#ff8000" >C</text><text x="1473" y="1534" font-size="71" fill="#8000ff" letter-spacing="-1">260</text><text x="1573" y="1489" font-size="48" fill="#8000ff" >o</text><text x="1596" y="1535" font-size="75" fill="#8000ff" >C</text></g></svg></body></html>
